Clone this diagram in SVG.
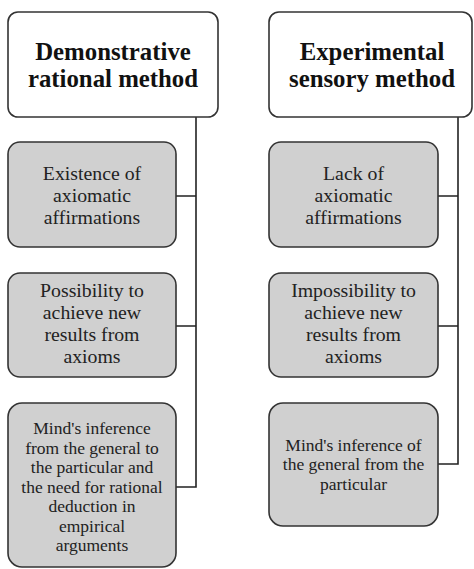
<svg xmlns="http://www.w3.org/2000/svg" width="474" height="569" viewBox="0 0 474 569">
<style>
.hdr{fill:#ffffff;stroke:#333333;stroke-width:1.6}
.box{fill:#d0d0d0;stroke:#333333;stroke-width:1.6}
.ln{fill:none;stroke:#222222;stroke-width:1.6}
.ht{font-family:"Liberation Serif",serif;font-weight:bold;font-size:24.8px;fill:#111111;text-anchor:middle}
.bt{font-family:"Liberation Serif",serif;font-size:19.8px;fill:#222222;text-anchor:middle}
.st{font-family:"Liberation Serif",serif;font-size:17.5px;fill:#222222;text-anchor:middle}
</style>
<rect width="474" height="569" fill="#ffffff"/>
<g id="connectors">
<path class="ln" d="M196,117 V487 H176 M176,196 H196 M176,326 H196"/>
<path class="ln" d="M458,117 V464 H438 M438,196 H458 M438,326 H458"/>
</g>
<g id="left-header">
<rect class="hdr" x="8" y="12" width="210" height="105" rx="10"/>
<text class="ht" x="113" y="59.5">Demonstrative</text>
<text class="ht" x="113" y="87">rational method</text>
</g>
<g id="right-header">
<rect class="hdr" x="269" y="12" width="203" height="105" rx="10"/>
<text class="ht" x="372" y="59.5">Experimental</text>
<text class="ht" x="372" y="87">sensory method</text>
</g>
<g id="left-1">
<rect class="box" x="8" y="142" width="168" height="105" rx="12"/>
<text class="bt" x="92" y="179.5">Existence of</text>
<text class="bt" x="92" y="201.5">axiomatic</text>
<text class="bt" x="92" y="223.5">affirmations</text>
</g>
<g id="left-2">
<rect class="box" x="8" y="273" width="168" height="104" rx="12"/>
<text class="bt" x="92" y="297">Possibility to</text>
<text class="bt" x="92" y="319">achieve new</text>
<text class="bt" x="92" y="341">results from</text>
<text class="bt" x="92" y="363">axioms</text>
</g>
<g id="left-3">
<rect class="box" x="8" y="403" width="168" height="164" rx="14"/>
<text class="st" x="92" y="434">Mind's inference</text>
<text class="st" x="92" y="453.5">from the general to</text>
<text class="st" x="92" y="473">the particular and</text>
<text class="st" x="92" y="492.5">the need for rational</text>
<text class="st" x="92" y="512">deduction in</text>
<text class="st" x="92" y="531.5">empirical</text>
<text class="st" x="92" y="551">arguments</text>
</g>
<g id="right-1">
<rect class="box" x="269" y="142" width="169" height="105" rx="12"/>
<text class="bt" x="353.5" y="179.5">Lack of</text>
<text class="bt" x="353.5" y="201.5">axiomatic</text>
<text class="bt" x="353.5" y="223.5">affirmations</text>
</g>
<g id="right-2">
<rect class="box" x="269" y="273" width="169" height="104" rx="12"/>
<text class="bt" x="353.5" y="297">Impossibility to</text>
<text class="bt" x="353.5" y="319">achieve new</text>
<text class="bt" x="353.5" y="341">results from</text>
<text class="bt" x="353.5" y="363">axioms</text>
</g>
<g id="right-3">
<rect class="box" x="269" y="403" width="169" height="123" rx="14"/>
<text class="st" x="353.5" y="450.5">Mind's inference of</text>
<text class="st" x="353.5" y="470">the general from the</text>
<text class="st" x="353.5" y="489.5">particular</text>
</g>
</svg>
